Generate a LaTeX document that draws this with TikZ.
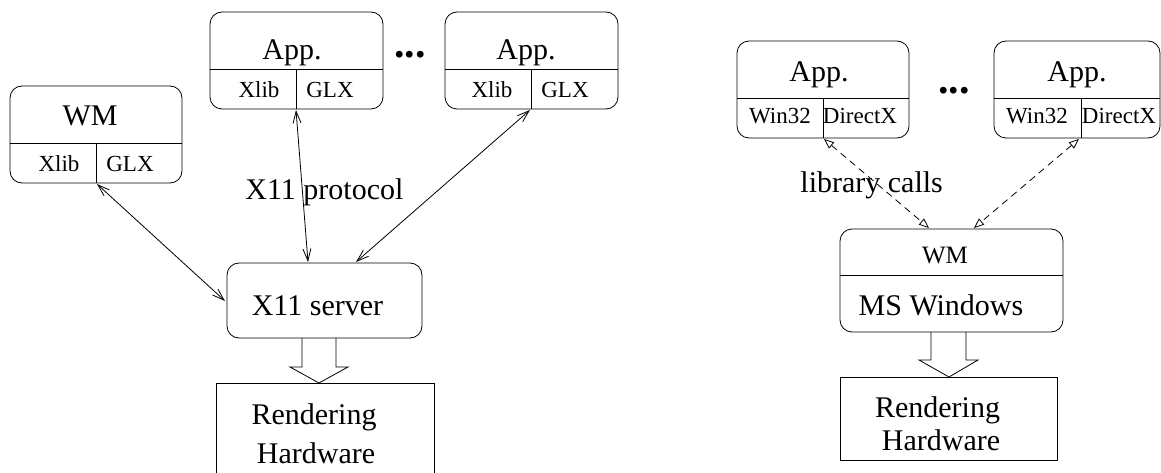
\documentclass[tikz,border=0pt]{standalone}
\usepackage{fontspec}
\setmainfont{Liberation Serif}
\usetikzlibrary{arrows.meta}

\begin{document}
\begin{tikzpicture}[x=1pt, y=-1pt, line width=.8pt,
        rbox/.style={draw, rounded corners=12pt, inner sep=0pt},
        sbox/.style={draw, inner sep=0pt},
        big/.style={anchor=base, inner sep=0pt, font=\fontsize{30}{32}\selectfont},
        mid/.style={anchor=base, inner sep=0pt, font=\fontsize{25}{27}\selectfont},
        small/.style={anchor=base, inner sep=0pt, font=\fontsize{23}{25}\selectfont},
        etc/.style={inner sep=0pt, font=\fontsize{42}{44}\selectfont\bfseries},
        xarrow/.style={{Straight Barb[length=12pt,width=8pt]}-{Straight Barb[length=12pt,width=8pt]}},
        libarrow/.style={dash pattern=on 7pt off 5pt, {Triangle[open,length=10pt,width=8pt]}-{Triangle[open,length=10pt,width=8pt]}}]
    \useasboundingbox (0,0) rectangle (1161,473);

    % X11 side
    \node [rbox, minimum width=172pt, minimum height=97pt] (wm) at (96,134.5) {};
    \draw (10,143) -- (182,143) (96,143) -- (96,183);
    \node [big] (wmt) at (90,126) {WM};
    \node [small] (wmx) at (59,172) {Xlib};
    \node [small] (wmg) at (130,172) {GLX};

    \node [rbox, minimum width=173pt, minimum height=97pt] (appa) at (296.5,60.5) {};
    \draw (210,69) -- (383,69) (296,69) -- (296,109);
    \node [big] (appat) at (292,60) {App.};
    \node [small] (appax) at (259,98) {Xlib};
    \node [small] (appag) at (330,98) {GLX};

    \node [etc] (dotsa) at (410,55) {...};

    \node [rbox, minimum width=173pt, minimum height=97pt] (appb) at (531.5,60.5) {};
    \draw (445,69) -- (618,69) (531,69) -- (531,109);
    \node [big] (appbt) at (526,60) {App.};
    \node [small] (appbx) at (492,98) {Xlib};
    \node [small] (appbg) at (565,98) {GLX};

    \node [rbox, minimum width=195pt, minimum height=75pt] (xserver) at (324.5,300.5) {};
    \node [big] (xservert) at (317.5,315) {X11 server};

    \node [sbox, minimum width=218pt, minimum height=120pt] (renda) at (325,443) {};
    \node [big] (rendat) at (314,424) {Rendering};
    \node [big] (rendah) at (316,463) {Hardware};

    \draw (302,338) -- (302,367) -- (290,367) -- (319,383) -- (348,367) -- (336,367) -- (336,338);

    \coordinate (wmb) at (97,184);
    \coordinate (appab) at (296,110);
    \coordinate (appbb) at (530,110);
    \coordinate (xsw) at (225,301);
    \coordinate (xsn) at (308,262);
    \coordinate (xsne) at (356,262);
    \draw [xarrow] (wmb) -- (xsw);
    \draw [xarrow] (appab) -- (xsn);
    \draw [xarrow] (appbb) -- (xsne);
    \node [big, anchor=base west] (proto) at (245,200) {X11 protocol};

    % Windows side
    \node [rbox, minimum width=172pt, minimum height=97pt] (appc) at (823,89.5) {};
    \draw (737,98) -- (909,98) (823,98) -- (823,138);
    \node [big] (appct) at (819,82) {App.};
    \node [small] (appcw) at (780,124) {Win32};
    \node [small] (appcd) at (860,124) {DirectX};

    \node [etc] (dotsb) at (954,91) {...};

    \node [rbox, minimum width=166pt, minimum height=97pt] (appd) at (1077,89.5) {};
    \draw (994,98) -- (1160,98) (1081,98) -- (1081,138);
    \node [big] (appdt) at (1077,82) {App.};
    \node [small] (appdw) at (1037,124) {Win32};
    \node [small] (appdd) at (1119,124) {DirectX};

    \node [rbox, minimum width=223pt, minimum height=103pt] (mswin) at (951.5,280.5) {};
    \draw (840,275) -- (1063,275);
    \node [mid] (mswinwm) at (945,263) {WM};
    \node [big] (mswint) at (941,315) {MS Windows};

    \node [sbox, minimum width=217pt, minimum height=83pt] (rendb) at (948.5,418.5) {};
    \node [big] (rendbt) at (937.5,417) {Rendering};
    \node [big] (rendbh) at (941,450) {Hardware};

    \draw (931,332) -- (931,360) -- (919,360) -- (949,377) -- (978,360) -- (966,360) -- (966,332);

    \coordinate (appcb) at (824,139);
    \coordinate (appdb) at (1079,139);
    \coordinate (msnw) at (929,228);
    \coordinate (msne) at (974,228);
    \draw [libarrow] (appcb) -- (msnw);
    \draw [libarrow] (appdb) -- (msne);
    \node [big, anchor=base west] (libcalls) at (800,193) {library calls};
\end{tikzpicture}
\end{document}
